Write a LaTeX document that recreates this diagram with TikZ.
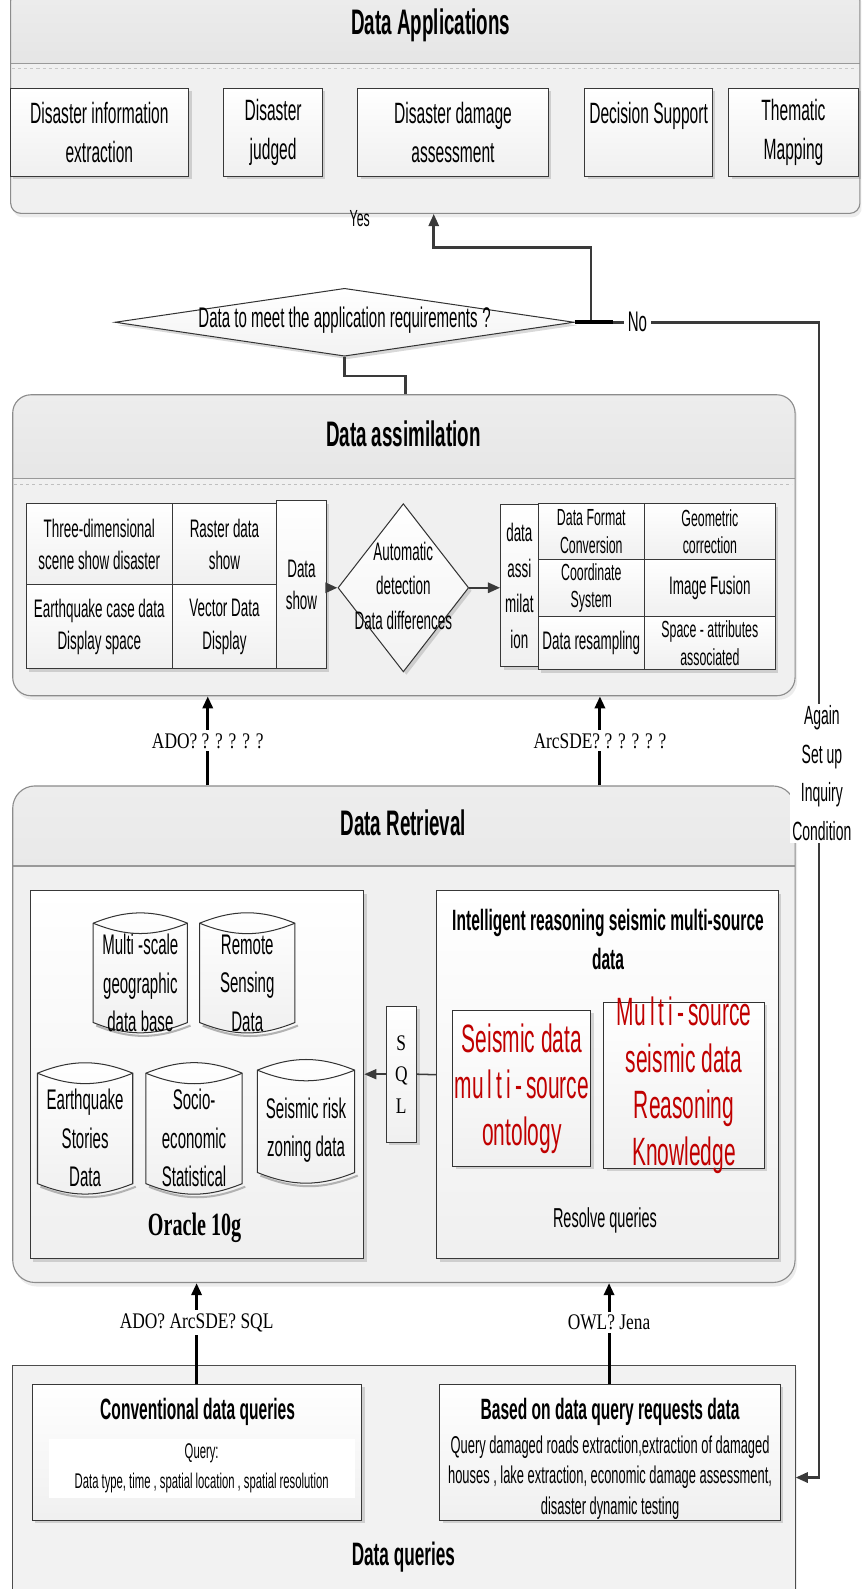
\documentclass[tikz,border=0pt]{standalone}
\usepackage{fontspec}
\newfontfamily\mycf{Liberation Sans}[FakeStretch=0.53]
\newfontfamily\myserif{Liberation Serif}[FakeStretch=0.78]
\newfontfamily\myserifc{Liberation Serif}[FakeStretch=0.62]
\usetikzlibrary{shapes.geometric,arrows.meta,shadows,calc}
\definecolor{hdrtop}{HTML}{EDEDED}
\definecolor{hdrbot}{HTML}{D5D5D5}
\definecolor{bodyc}{HTML}{F0F0F0}
\definecolor{redt}{HTML}{C00000}
\definecolor{lineg}{HTML}{3A3A3A}
\newcommand\fsz[2]{\fontsize{#1}{#2}\selectfont}
\newcommand\appf{\mycf\fsz{29}{38}}
\newcommand\cellf{\mycf\fsz{25}{32}}
\newcommand\cellsf{\mycf\fsz{23}{27}}
\newcommand\cylf{\mycf\fsz{28}{38}}
\newcommand\redf{\mycf\fsz{39}{46}\color{redt}}
\tikzset{
 panel/.style={draw=black!45, line width=1.1pt, fill=bodyc, inner sep=0pt, anchor=north west,
   drop shadow={opacity=0.15, shadow xshift=2pt, shadow yshift=-4pt}},
 hdr/.style={path picture={\fill[sharp corners, top color=hdrtop, bottom color=hdrbot]
   (path picture bounding box.north west) rectangle ([yshift=-#1]path picture bounding box.north east);
   \draw[sharp corners, black!40, line width=1pt] ([yshift=-#1]path picture bounding box.north west) -- ([yshift=-#1]path picture bounding box.north east);}},
 ptitle/.style={font=\mycf\bfseries\fsz{35}{38}},
 ibox/.style={draw=black!78, line width=1pt, top color=white, bottom color=black!6, inner sep=0pt,
   drop shadow={opacity=0.3, shadow xshift=3pt, shadow yshift=-3pt}},
 cylline/.style={draw=black!80, line width=1pt, top color=white, bottom color=black!6},
 conn/.style={line width=3pt, black},
 gconn/.style={line width=2.5pt, lineg},
 arr/.style={-{Triangle[length=12pt,width=10pt]}},
 slabel/.style={font=\myserif\fsz{22}{24}, fill=white, inner sep=3pt},
}
\newcommand\bx[8][]{%
 \node[ibox,minimum width={#5-#3},minimum height={#6-#4},#1] (#2) at ({(#3+#5)/2},{(#4+#6)/2}) {};
 \node[align=center,inner sep=0pt,font=#7] at (#2) {#8};}
\newcommand\cyl[8]{%
 \node[minimum width={#4-#2}, minimum height={#5-#3}, inner sep=0pt, outer sep=0pt] (#1) at ({(#2+#4)/2},{(#3+#5)/2}) {};
 \draw[black!30, line width=2pt] ([xshift=3pt,yshift=-3pt]#1.south east) to[bend left=22] ([xshift=3pt,yshift=-3pt]#1.south west);
 \draw[cylline] (#1.north west) to[bend left=22] (#1.north east) -- (#1.south east) to[bend left=22] (#1.south west) -- cycle;
 \draw[draw=black!80, line width=1pt] (#1.north east) to[bend left=22] (#1.north west);
 \node[align=center, inner sep=0pt, font=#7] at ({(#2+#4)/2},#6) {#8};}
\begin{document}
\begin{tikzpicture}[x=1pt,y=-1pt]
\useasboundingbox (0,0) rectangle (850,1568);
\clip (0,0) rectangle (850,1568);

% ---------------- Data Applications
\node[panel, rounded corners=10pt, minimum width=838, minimum height=220, hdr=72pt] (apps) at (10,-10) {};
\draw[black!22, dashed] (12,67) -- (846,67);
\node[ptitle] (tapps) at (425,25) {Data Applications};
\bx{a1}{10}{87}{186}{174}{\appf}{Disaster information\\extraction}
\bx{a2}{221}{87}{318}{174}{\appf}{Disaster\\judged}
\bx{a3}{353}{87}{541}{174}{\appf}{Disaster damage\\assessment}
\bx{a4}{577}{87}{703}{174}{\appf}{Decision Support\\\phantom{x}}
\bx{a5}{719}{87}{847}{174}{\appf}{Thematic\\Mapping}
\node[font=\mycf\fsz{23}{24}] (yes) at (355,216) {Yes};

% ---------------- decision diamond
\node[draw=black!80, line width=1pt, diamond, minimum width=453, minimum height=67, inner sep=0pt,
  top color=white, bottom color=black!5, drop shadow={opacity=0.3,shadow xshift=3pt,shadow yshift=-3pt}] (dq) at (340,318) {};
\node[font=\mycf\fsz{28}{30}, inner sep=0pt] at (340,316) {Data to meet the application requirements\,?};

% ---------------- Data assimilation
\node[panel, rounded corners=18pt, minimum width=772, minimum height=297, hdr=83pt] (assim) at (12,389) {};
\draw[black!25, dashed, line width=0.8pt] (14,478) -- (782,478);
\node[ptitle] (tassim) at (398,428) {Data assimilation};
\bx{c1}{26}{497}{170}{577}{\cellf}{Three-dimensional\\scene show disaster}
\bx{c2}{170}{497}{273}{577}{\cellf}{Raster data\\show}
\bx{c3}{26}{577}{170}{660}{\cellf}{Earthquake case data\\Display space}
\bx{c4}{170}{577}{273}{660}{\cellf}{Vector Data\\Display}
\bx{dshow}{273}{494}{322}{660}{\cellf}{Data\\show}
\node[draw=black!80, line width=1pt, diamond, minimum width=129, minimum height=166, inner sep=0pt,
  top color=white, bottom color=black!5, drop shadow={opacity=0.3,shadow xshift=3pt,shadow yshift=-3pt}] (ad) at (398,580) {};
\node[align=center, inner sep=0pt, font=\mycf\fsz{25}{34}] at (398,578) {Automatic\\detection\\Data differences};
\bx{da}{494}{498}{531}{658}{\mycf\fsz{25}{35}}{data\\assi\\milat\\ion}
\bx{r1}{531}{497}{636}{552}{\cellsf}{Data Format\\Conversion}
\bx{r2}{636}{497}{765}{552}{\cellsf}{Geometric\\correction}
\bx{r3}{531}{552}{636}{608}{\cellsf}{Coordinate\\System}
\bx{r4}{636}{552}{765}{608}{\cellf}{Image Fusion}
\bx{r5}{531}{608}{636}{661}{\cellf}{Data resampling}
\bx{r6}{636}{608}{765}{661}{\cellsf}{Space - attributes\\associated}
\draw[gconn, arr] (ad.west -| dshow.east) -- (ad.west);
\draw[gconn, arr] (ad.east) -- (ad.east -| da.west);

% ---------------- Data Retrieval
\node[panel, rounded corners=22pt, minimum width=772, minimum height=490, hdr=79pt] (ret) at (12,775) {};
\node[ptitle] (tret) at (398,812) {Data Retrieval};
\bx{oracle}{30}{879}{359}{1242}{}{}
\cyl{cy1}{92}{911}{185}{1009}{970}{\cylf}{Multi -scale\\geographic\\data base}
\cyl{cy2}{197}{911}{291}{1009}{970}{\cylf}{Remote\\Sensing\\Data}
\cyl{cy3}{37}{1059}{131}{1168}{1123}{\cylf}{Earthquake\\Stories\\Data}
\cyl{cy4}{144}{1059}{239}{1168}{1123}{\cylf}{Socio-\\economic\\Statistical}
\cyl{cy5}{254}{1056}{350}{1157}{1115}{\cylf}{Seismic risk\\zoning data}
\node[font=\myserifc\bfseries\fsz{32}{34}] (oratxt) at (192,1212) {Oracle 10g};
\bx{intel}{431}{879}{768}{1242}{}{}
\node[align=center, font=\mycf\bfseries\fsz{29}{38}] (inttxt) at (600,927) {Intelligent reasoning seismic multi-source\\data};
\bx[draw=black!80]{rb1}{447}{997}{583}{1151}{\redf}{Seismic data\\mu\kern4pt l\kern4pt t\kern4pt i\kern4pt -\kern4pt source\\ontology}
\bx[draw=black!80]{rb2}{596}{989}{754}{1153}{\redf}{Mu\kern4pt l\kern4pt t\kern4pt i\kern4pt -\kern4pt source\\seismic data\\Reasoning\\Knowledge}
\node[font=\mycf\fsz{27}{28}] (resq) at (597,1204) {Resolve queries};
\bx[fill=white]{sql}{381}{993}{411}{1127}{\myserif\fsz{22}{31}}{S\\Q\\L}
\draw[gconn, line width=1.5pt] (intel.west) -- (sql.east);
\draw[gconn, line width=1.5pt, arr] (sql.west) -- (sql.west -| oracle.east);

% ---------------- Data queries
\node[panel, draw=black!70, fill=black!5, minimum width=772, minimum height=260] (dqp) at (12,1347) {};
\node[font=\mycf\bfseries\fsz{32}{34}] (tdq) at (398,1537) {Data queries};
\bx{cq}{32}{1366}{357}{1500}{}{}
\node[font=\mycf\bfseries\fsz{29}{32}] (cqt) at (195,1393) {Conventional data queries};
\node[fill=white, minimum width=302, minimum height=59, inner sep=0pt] (qw) at (199,1449) {};
\node[align=center, font=\mycf\fsz{21}{29}] at (qw) {Query:\\Data type, time , spatial location , spatial resolution};
\bx{bq}{434}{1366}{770}{1500}{}{}
\node[font=\mycf\bfseries\fsz{29}{32}] (bqt) at (602,1393) {Based on data query requests data};
\node[align=center, font=\mycf\fsz{24}{30}] (bqx) at (602,1458) {Query damaged roads extraction,extraction of damaged\\houses , lake extraction, economic damage assessment,\\disaster dynamic testing};

% ---------------- connectors
\coordinate (yx) at (428,0);
\coordinate (yk) at (583,244);
\draw[gconn, arr] (dq.east) -| (yk) -- (yk -| yx) -- (yx |- apps.south);
\coordinate (nk) at (808,318);
\coordinate (nk2) at (808,1458);
\draw[gconn, arr] (dq.east) -- (nk) -- (nk2) -- (nk2 -| dqp.east);
\draw[line width=4pt, black] (dq.east) -- ++(38,0);
\node[fill=white, font=\mycf\fsz{28}{30}, inner sep=4pt] (no) at (629,318) {No};
\node[fill=white, align=center, font=\mycf\fsz{26}{38}, inner sep=2pt] (again) at (811,763) {Again\\Set up\\Inquiry\\Condition};
\coordinate (bk) at (400,371);
\draw[gconn] (dq.south) |- (bk) -- (bk |- assim.north);

\coordinate (xa) at (205,0);
\coordinate (xb) at (592,0);
\draw[conn, arr] (ret.north -| xa) -- (assim.south -| xa);
\draw[conn, arr] (ret.north -| xb) -- (assim.south -| xb);
\node[slabel] (la) at (205,731) {ADO? ? ? ? ? ?};
\node[slabel] (lb) at (592,731) {ArcSDE? ? ? ? ? ?};

\coordinate (xc) at (194,0);
\coordinate (xd) at (601,0);
\draw[conn, arr] (cq.north -| xc) -- (ret.south -| xc);
\draw[conn, arr] (bq.north -| xd) -- (ret.south -| xd);
\node[slabel] (lc) at (194,1305) {ADO? ArcSDE? SQL};
\node[slabel] (ld) at (601,1305) {OWL? Jena};
\end{tikzpicture}
\end{document}
